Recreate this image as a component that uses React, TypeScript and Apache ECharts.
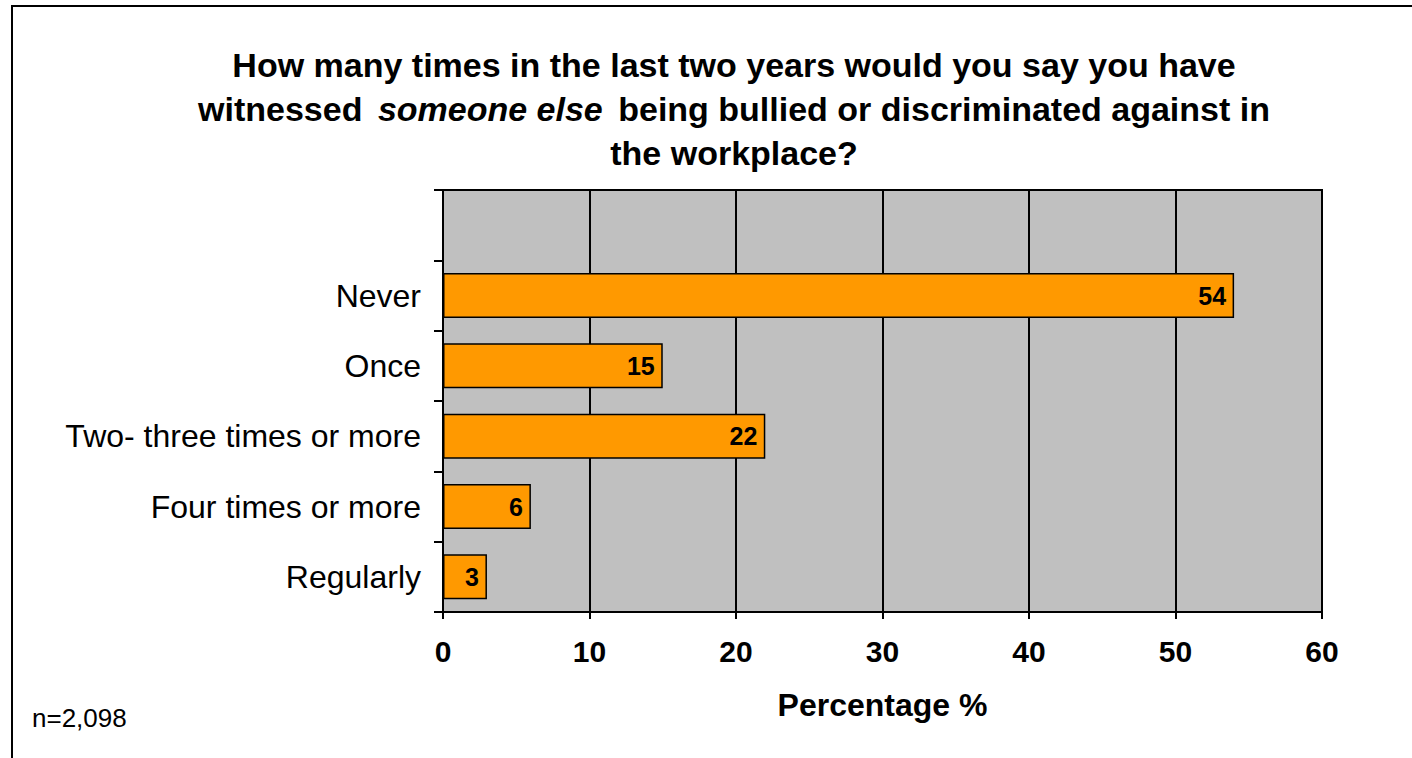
import React, { useEffect, useRef } from "react";
import * as echarts from "echarts";

const titleLines = [
  "How many times in the last two years would you say you have",
  "witnessed {i|someone else} being bullied or discriminated against in",
  "the workplace?",
];
const categories = ["", "Never", "Once", "Two- three times or more", "Four times or more", "Regularly"];
const values: (number | string)[] = ["-", 54, 15, 22, 6, 3];
const xTicks = { min: 0, max: 60, interval: 10 };
const axisName = "Percentage %";
const note = "n=2,098";

const FONT = "'Liberation Sans', Arial, Helvetica, sans-serif";

export default function App() {
  const ref = useRef<HTMLDivElement>(null);
  useEffect(() => {
    if (!ref.current) return;
    const chart = echarts.init(ref.current, undefined, { renderer: "svg" });
    chart.setOption({
      animation: false,
      backgroundColor: "#ffffff",
      title: {
        text: titleLines.join("\n"),
        left: 729,
        top: 38,
        textAlign: "center",
        textStyle: {
          fontFamily: FONT,
          fontWeight: "bold",
          fontSize: 34,
          lineHeight: 44,
          color: "#000",
          rich: {
            i: {
              fontFamily: FONT,
              fontWeight: "bold",
              fontStyle: "italic",
              fontSize: 34,
              lineHeight: 44,
              color: "#000",
              padding: [0, 6, 0, 6],
            },
          },
        },
      },
      grid: {
        left: 443,
        top: 190,
        right: 90,
        bottom: 146,
        show: true,
        backgroundColor: "#C0C0C0",
        borderColor: "#000",
        borderWidth: 2,
        containLabel: false,
      },
      xAxis: {
        type: "value",
        min: xTicks.min,
        max: xTicks.max,
        interval: xTicks.interval,
        axisLine: { show: true, lineStyle: { color: "#000", width: 2 } },
        axisTick: { show: true, length: 7, lineStyle: { color: "#000", width: 2 } },
        splitLine: { show: true, lineStyle: { color: "#000", width: 2 } },
        axisLabel: {
          fontFamily: FONT,
          fontWeight: "bold",
          fontSize: 30,
          color: "#000",
          margin: 24,
        },
        name: axisName,
        nameLocation: "middle",
        nameGap: 77,
        nameTextStyle: {
          fontFamily: FONT,
          fontWeight: "bold",
          fontSize: 32,
          color: "#000",
        },
      },
      yAxis: {
        type: "category",
        data: categories,
        inverse: true,
        axisLine: { show: true, lineStyle: { color: "#000", width: 2 } },
        axisTick: { show: true, length: 9, lineStyle: { color: "#000", width: 2 } },
        splitLine: { show: false },
        axisLabel: {
          fontFamily: FONT,
          fontSize: 32,
          color: "#000",
          margin: 22,
        },
      },
      graphic: [
        {
          type: "rect",
          shape: { x: 12, y: 6, width: 1440, height: 800 },
          style: { fill: "none", stroke: "#000", lineWidth: 2 },
          silent: true,
        },
        {
          type: "text",
          x: 32,
          y: 718,
          style: {
            text: note,
            fontFamily: FONT,
            fontSize: 26,
            fill: "#000",
            textVerticalAlign: "middle",
          },
        },
      ],
      series: [
        {
          type: "bar",
          data: values,
          barWidth: 45,
          itemStyle: { color: "#FF9900", borderColor: "#000", borderWidth: 1.5 },
          label: {
            show: true,
            position: "insideRight",
            distance: 8,
            fontFamily: FONT,
            fontWeight: "bold",
            fontSize: 25,
            color: "#000",
            formatter: "{c}",
          },
        },
      ],
    });
    return () => chart.dispose();
  }, []);
  return (
    <div
      ref={ref}
      style={{ position: "absolute", left: 0, top: 0, width: 1412, height: 758 }}
    />
  );
}
